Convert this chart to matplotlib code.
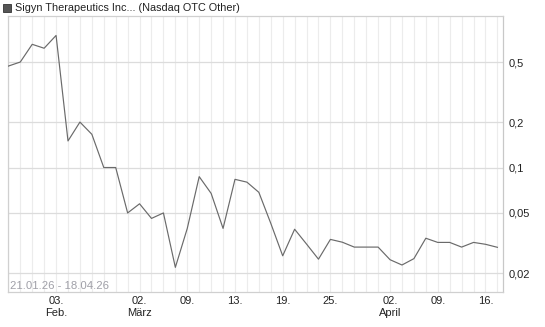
import matplotlib
matplotlib.use("Agg")
import matplotlib.pyplot as plt
from matplotlib.ticker import FixedLocator, NullLocator, MultipleLocator
from matplotlib.patches import Rectangle

plt.rcParams['font.family'] = ['Liberation Sans', 'DejaVu Sans']

prices = [0.47, 0.50, 0.655, 0.617, 0.75, 0.15, 0.20, 0.166, 0.10, 0.10,
          0.05, 0.0575, 0.046, 0.05, 0.0218, 0.0395, 0.087, 0.0674, 0.0395, 0.0835,
          0.080, 0.0685, 0.0427, 0.026, 0.039, 0.0311, 0.0247, 0.0334, 0.032, 0.0297,
          0.0297, 0.0297, 0.0245, 0.0226, 0.0249, 0.034, 0.0319, 0.0319, 0.0297, 0.0319,
          0.031, 0.0296]
tick_idx = [4, 11, 15, 19, 23, 27, 32, 36, 40]
tick_labels = ["03.\nFeb.", "02.\nMärz", "09.", "13.", "19.", "25.", "02.\nApril", "09.", "16."]
y_ticks = [0.02, 0.05, 0.1, 0.2, 0.5]
y_labels = ["0,02", "0,05", "0,1", "0,2", "0,5"]
title = "Sigyn Therapeutics Inc... (Nasdaq OTC Other)"
date_range = "21.01.26 - 18.04.26"

W, H = 545, 327
fig = plt.figure(figsize=(W / 100, H / 100), dpi=100)
ax = fig.add_axes([8 / W, 1 - 292 / H, (503 - 8) / W, (292 - 16) / H])

x = list(range(len(prices)))
ax.plot(x, prices, color='#6a6a6a', lw=0.85, zorder=3)

ax.set_yscale('log')
ax.set_ylim(0.01497, 1.009)
ax.set_xlim(-0.03, len(prices) - 1 + 0.47)

ax.yaxis.set_major_locator(FixedLocator(y_ticks))
ax.yaxis.set_minor_locator(NullLocator())
ax.set_yticklabels(y_labels)
ax.yaxis.tick_right()
ax.tick_params(axis='y', length=0, pad=4, labelsize=8, labelcolor='#222222')

ax.xaxis.set_major_locator(FixedLocator(tick_idx))
ax.set_xticklabels(tick_labels)
ax.xaxis.set_minor_locator(MultipleLocator(1))
ax.tick_params(axis='x', which='both', length=0, pad=3, labelsize=8, labelcolor='#222222')
for lbl in ax.get_xticklabels():
    lbl.set_linespacing(1.25)

ax.grid(which='minor', axis='x', color='#ececec', lw=0.8, zorder=0)
ax.grid(which='major', axis='x', color='#ececec', lw=0.8, zorder=0)
ax.grid(which='major', axis='y', color='#dcdcdc', lw=0.9, zorder=0)

for side, sp in ax.spines.items():
    sp.set_color('#d0d0d0')
    sp.set_linewidth(0.9)
ax.spines['right'].set_color('#c8c8c8')

ax.text(0.004, 0.003, date_range, transform=ax.transAxes, fontsize=8.2,
        color='#a0a0a8', ha='left', va='bottom')

fig.patches.append(Rectangle((3 / W, 1 - 12 / H), 8 / W, 8 / H, transform=fig.transFigure,
                             facecolor='#555555', edgecolor='#333333', lw=0.6))
fig.text(15 / W, 1 - 8 / H, title, fontsize=7.8, color='#222222', ha='left', va='center')

fig.savefig('out.png', dpi=100)
